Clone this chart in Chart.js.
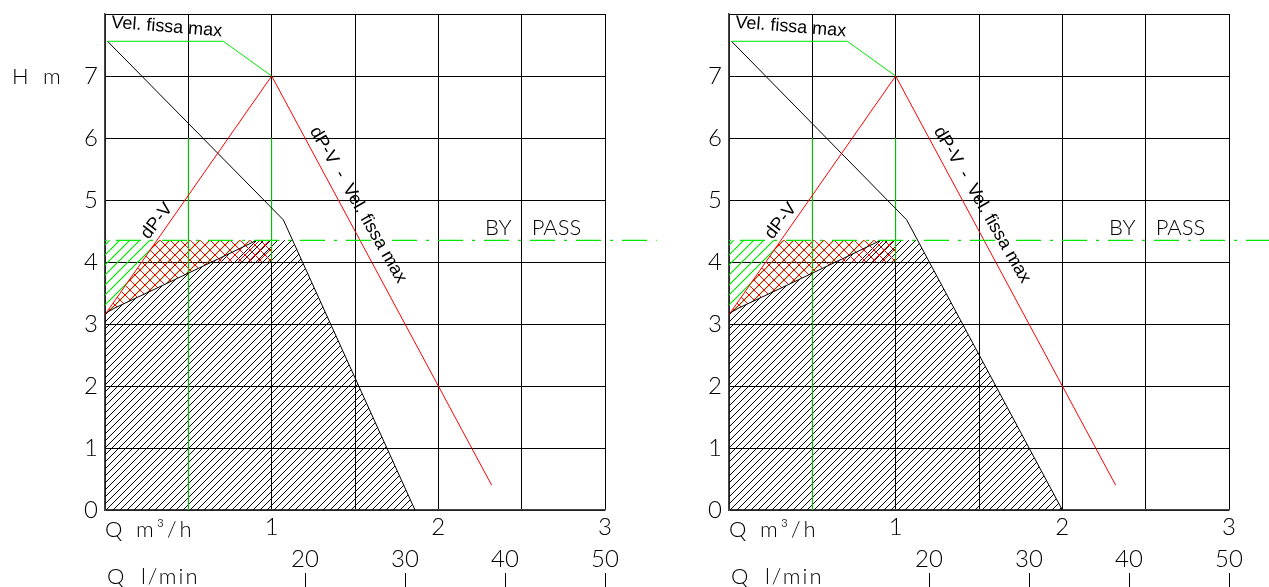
<!DOCTYPE html>
<html lang="it">
<head>
<meta charset="utf-8">
<title>Curve dP-V</title>
<script src="https://cdn.jsdelivr.net/npm/chart.js@4.4.1/dist/chart.umd.min.js"></script>
<style>
  body { margin: 0; background: #fff; width: 1269px; height: 587px; overflow: hidden; position: relative; }
  .pannello { position: absolute; top: 0; width: 660px; height: 587px; }
</style>
</head>
<body>
<div class="pannello" style="left:0"><canvas id="graficoSx" width="660" height="587"></canvas></div>
<div class="pannello" style="left:624px"><canvas id="graficoDx" width="660" height="587"></canvas></div>
<script>
// --- DATI (Q in m³/h, H in m) ---
const tickQ = [0, 1, 2, 3];
const tickH = [0, 1, 2, 3, 4, 5, 6, 7];
const tickLmin = [20, 30, 40, 50];

// velocità fissa max (verde)
const qVelFissa = [0.015, 0.71, 1.0];
const hVelFissa = [7.56, 7.56, 7.0];

// dP-V (rossa)
const qDpv = [0, 1, 2.32];
const hDpv = [3.15, 7.0, 0.4];

// by-pass
const qBypass = [0, 3.31];
const hBypass = [4.35, 4.35];

// curva nera, pannello sinistro e destro
const qCurvaSx = [0.015, 1.07, 1.86];
const hCurvaSx = [7.56, 4.68, 0];
const qCurvaDx = [0.015, 1.066, 2.0];
const hCurvaDx = [7.56, 4.68, 0];

// limite inferiore della zona di regolazione
const qLimite = [0, 0.06, 0.25, 0.5, 0.75, 0.91];
const hLimite = [3.17, 3.26, 3.5, 3.82, 4.14, 4.35];

// area tratteggiata nera
const qAreaSx = [0, 0.06, 0.25, 0.5, 0.75, 0.91, 1.126, 1.86];
const hAreaSx = [3.17, 3.26, 3.5, 3.82, 4.14, 4.35, 4.35, 0];
const qAreaDx = [0, 0.06, 0.25, 0.5, 0.75, 0.91, 1.132, 2.0];
const hAreaDx = [3.17, 3.26, 3.5, 3.82, 4.14, 4.35, 4.35, 0];

// area rossa (quadrettata)
const qRossoSup = [0, 0.312, 1.0];
const hRossoSup = [3.15, 4.35, 4.35];
const qRossoInf = [0, 0.06, 0.25, 0.5, 0.64, 1.0];
const hRossoInf = [3.17, 3.26, 3.5, 3.82, 4.0, 4.0];

// verticali verdi
const qVerticale1 = [0.5, 0.5];
const hVerticale1 = [0, 6];
const qVerticale2 = [1, 1];
const hVerticale2 = [4, 6];

const VERDE = '#00e600';
const ROSSO = '#ff0000';
const NERO = '#000000';
const fontTick = { family: 'Lato', weight: 300, size: 24 };

const punti = (qs, hs) => qs.map((q, i) => ({ x: q, y: hs[i] }));

// tratteggio diagonale per le aree
function creaTratteggio(colore, passo, incrociato, spessore) {
    const c = document.createElement('canvas');
    c.width = passo; c.height = passo;
    const g = c.getContext('2d');
    g.strokeStyle = colore;
    g.lineWidth = spessore || 1;
    g.beginPath();
    g.moveTo(0, passo); g.lineTo(passo, 0);
    g.moveTo(-1, 1); g.lineTo(1, -1);
    g.moveTo(passo - 1, passo + 1); g.lineTo(passo + 1, passo - 1);
    if (incrociato) {
        g.moveTo(0, 0); g.lineTo(passo, passo);
        g.moveTo(passo - 1, -1); g.lineTo(passo + 1, 1);
        g.moveTo(-1, passo - 1); g.lineTo(1, passo + 1);
    }
    g.stroke();
    return g.createPattern(c, 'repeat');
}

const testiPlugin = {
    id: 'testi',
    afterDraw(chart, args, opts) {
        const { ctx, scales: { x, y } } = chart;
        ctx.save();
        ctx.fillStyle = NERO;

        // etichette assi
        ctx.font = '300 22px Lato';
        ctx.textAlign = 'left';
        ctx.textBaseline = 'alphabetic';
        const x0 = x.getPixelForValue(0);
        ctx.fillText('Q', x0, y.bottom + 27);
        ctx.letterSpacing = '3px';
        ctx.fillText('m³/h', x0 + 31, y.bottom + 27);
        ctx.letterSpacing = '2px';
        ctx.fillText('Q', x0 + 2, y.bottom + 74);
        ctx.fillText('l/min', x0 + 36, y.bottom + 74);
        ctx.letterSpacing = '0px';
        if (opts.conHm) {
            const y7 = y.getPixelForValue(7) + 8;
            ctx.fillText('H', x0 - 93, y7);
            ctx.fillText('m', x0 - 62, y7);
        }

        // by pass
        const yBp = y.getPixelForValue(4.44);
        ctx.fillText('BY', x.getPixelForValue(2.28), yBp);
        ctx.fillText('PASS', x.getPixelForValue(2.56), yBp);

        // scritte sulle curve
        ctx.font = '18px "Liberation Sans"';
        ctx.save();
        ctx.translate(x.getPixelForValue(0.036), y.getPixelForValue(7.78));
        ctx.rotate(4.5 * Math.PI / 180);
        ctx.fillText('Vel. fissa max', 0, 0);
        ctx.restore();

        ctx.textAlign = 'center';
        ctx.textBaseline = 'middle';
        ctx.save();
        ctx.translate(x.getPixelForValue(0.312), y.getPixelForValue(4.66));
        ctx.rotate(-52 * Math.PI / 180);
        ctx.fillText('dP-V', 0, 0);
        ctx.restore();

        ctx.save();
        ctx.translate(x.getPixelForValue(1.518), y.getPixelForValue(4.92));
        ctx.rotate(60 * Math.PI / 180);
        ctx.fillText('dP-V  -  Vel. fissa max', 0, 0);
        ctx.restore();

        ctx.restore();
    }
};

function linea(qs, hs, colore, extra) {
    return Object.assign({
        data: punti(qs, hs),
        borderColor: colore,
        borderWidth: 1,
        pointRadius: 0,
        fill: false,
        tension: 0
    }, extra || {});
}

// niente margini automatici: l'area del grafico la decidiamo noi
function azzeraPadding(s) {
    s.paddingTop = 0; s.paddingBottom = 0; s.paddingLeft = 0; s.paddingRight = 0;
}

function creaGrafico(idCanvas, qCurva, hCurva, qArea, hArea, conHm) {
    const ctx = document.getElementById(idCanvas).getContext('2d');
    const tratteggioRosso = creaTratteggio(ROSSO, 10, true, 1);
    const tratteggioVerde = creaTratteggio(VERDE, 10, false, 1.2);
    const tratteggioNero = creaTratteggio(NERO, 7, false, 1);
    const datasets = [
        linea(qBypass, hBypass, VERDE, { borderDash: [25, 9, 3, 9], borderDashOffset: 35, borderWidth: 1.3, clip: false }),
        linea(qDpv, hDpv, ROSSO),
        linea(qVelFissa, hVelFissa, VERDE),
        linea(qCurva, hCurva, NERO),
        linea(qLimite, hLimite, NERO),
        linea(qVerticale1, hVerticale1, VERDE),
        linea(qVerticale2, hVerticale2, VERDE),
        linea(qRossoSup, hRossoSup, 'transparent', { borderWidth: 0, backgroundColor: tratteggioRosso,
            fill: { target: '+1', above: tratteggioRosso, below: tratteggioRosso } }),
        linea(qRossoInf, hRossoInf, 'transparent', { borderWidth: 0 }),
        linea(qLimite, hLimite, 'transparent', { borderWidth: 0, backgroundColor: tratteggioVerde,
            fill: { target: { value: 4.35 }, above: tratteggioVerde, below: tratteggioVerde } }),
        linea(qArea, hArea, 'transparent', { borderWidth: 0, backgroundColor: tratteggioNero,
            fill: { target: 'origin', above: tratteggioNero, below: tratteggioNero } })
    ];

    return new Chart(ctx, {
        type: 'line',
        data: { datasets },
        plugins: [testiPlugin],
        options: {
            responsive: false,
            animation: false,
            events: [],
            layout: { padding: { top: 14, right: 55, left: 0, bottom: 0 } },
            plugins: { legend: { display: false }, tooltip: { enabled: false }, testi: { conHm } },
            scales: {
                x: {
                    type: 'linear', position: 'bottom', min: 0, max: 3,
                    afterBuildTicks: s => { s.ticks = [0, 0.5, 1, 1.5, 2, 2.5, 3].map(v => ({ value: v })); },
                    afterFit: s => { s.height = 35; azzeraPadding(s); },
                    ticks: {
                        font: fontTick, color: NERO, padding: 3, maxRotation: 0, autoSkip: false,
                        callback: v => (tickQ.includes(v) && v !== 0) ? String(v) : ''
                    },
                    grid: { color: NERO, lineWidth: 1, drawTicks: false },
                    border: { color: '#444', width: 1.5 }
                },
                x2: {
                    type: 'linear', position: 'bottom', min: 0, max: 50,
                    afterBuildTicks: s => { s.ticks = tickLmin.map(v => ({ value: v })); },
                    afterFit: s => { s.height = 28; azzeraPadding(s); },
                    ticks: { font: fontTick, color: NERO, padding: 0, maxRotation: 0, autoSkip: false },
                    grid: { display: true, drawOnChartArea: false, drawTicks: false, color: 'transparent' },
                    border: { display: false }
                },
                x3: {
                    type: 'linear', position: 'bottom', min: 0, max: 50,
                    afterBuildTicks: s => { s.ticks = tickLmin.map(v => ({ value: v })); },
                    afterFit: s => { s.height = 14; azzeraPadding(s); },
                    ticks: { display: false },
                    grid: { display: true, drawOnChartArea: false, drawTicks: true, tickLength: 14, color: NERO, lineWidth: 1 },
                    border: { display: false }
                },
                y: {
                    type: 'linear', min: 0, max: 8,
                    afterBuildTicks: s => { s.ticks = tickH.concat([8]).map(v => ({ value: v })); },
                    afterFit: s => { s.width = 105; azzeraPadding(s); },
                    ticks: {
                        font: fontTick, color: NERO, padding: 7,
                        callback: v => tickH.includes(v) ? String(v) : ''
                    },
                    grid: { color: NERO, lineWidth: 1, drawTicks: false },
                    border: { color: '#444', width: 1.5 }
                }
            }
        }
    });
}

creaGrafico('graficoSx', qCurvaSx, hCurvaSx, qAreaSx, hAreaSx, true);
creaGrafico('graficoDx', qCurvaDx, hCurvaDx, qAreaDx, hAreaDx, false);
</script>
</body>
</html>
